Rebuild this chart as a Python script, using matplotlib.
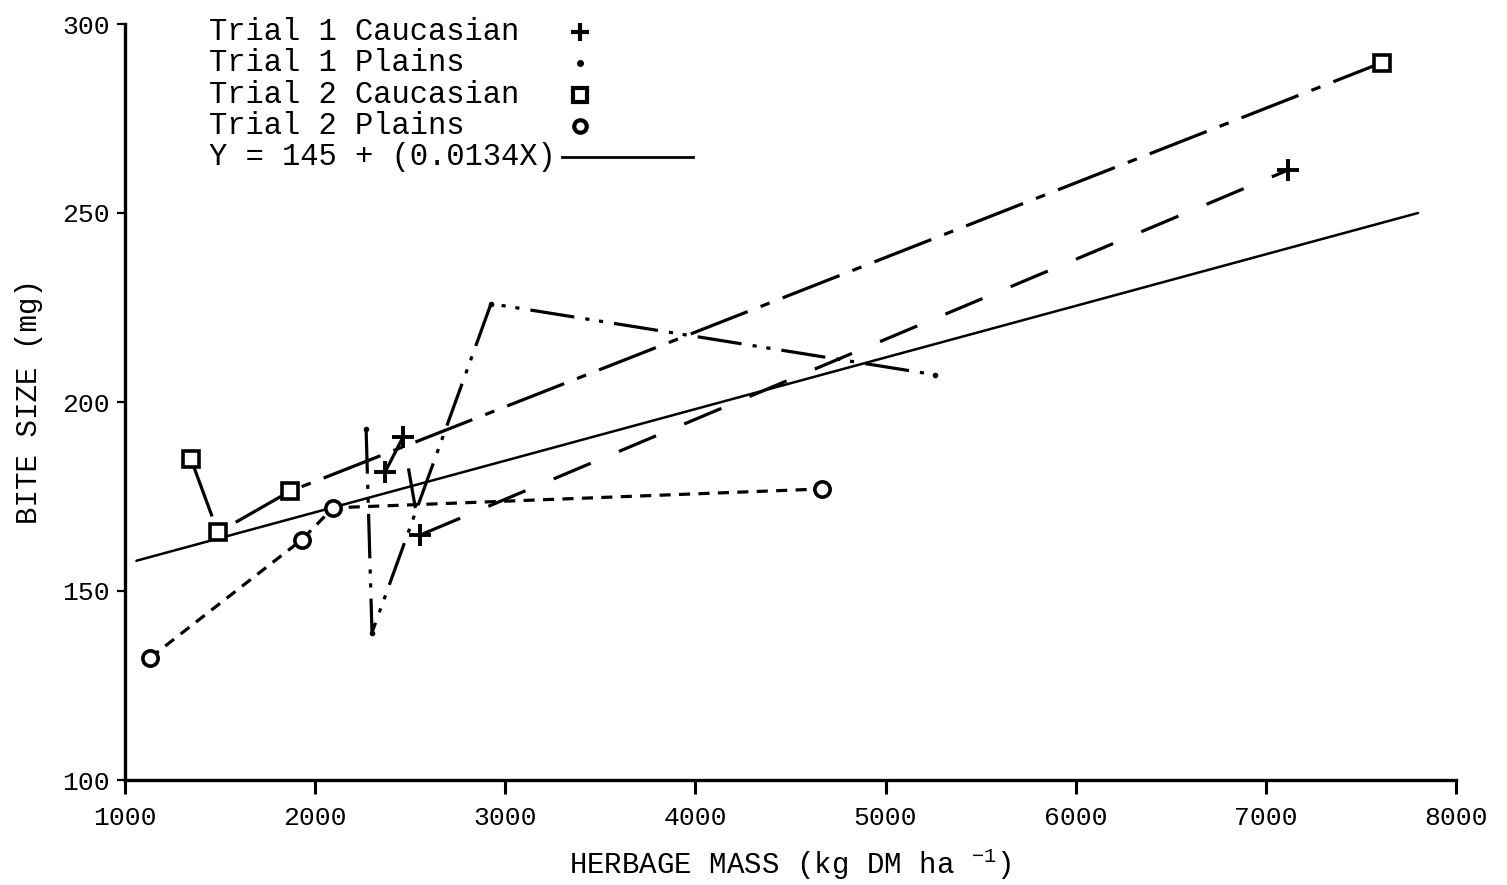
import matplotlib
matplotlib.use('Agg')
import matplotlib.pyplot as plt

plt.rcParams['font.family'] = ['Liberation Mono', 'DejaVu Sans Mono']
plt.rcParams['mathtext.default'] = 'regular'
plt.rcParams['lines.scale_dashes'] = False

# Trial 1 Caucasian (+), dashed
t1c_x = [2368, 2462, 2552, 7118]
t1c_y = [181.5, 190.7, 164.8, 261.4]
# Trial 1 Plains (dot), dash-dot-dot
t1p_x = [2268, 2299, 2925, 5261]
t1p_y = [192.8, 139.0, 226.0, 207.2]
# Trial 2 Caucasian (square), dash-dot
t2c_x = [1347, 1489, 1868, 7612]
t2c_y = [184.9, 165.5, 176.4, 289.8]
# Trial 2 Plains (circle), short dashes
t2p_x = [1131, 1931, 2094, 4667]
t2p_y = [132.3, 163.6, 172.0, 177.0]
# fitted line Y = 145 + 0.0134X, end points
fit_x = [1060, 7800]
fit_y = [158, 250]

legend_labels = ['Trial 1 Caucasian', 'Trial 1 Plains', 'Trial 2 Caucasian',
                 'Trial 2 Plains', 'Y = 145 + (0.0134X)']
x_ticks = [1000, 2000, 3000, 4000, 5000, 6000, 7000, 8000]
y_ticks = [100, 150, 200, 250, 300]

fig = plt.figure(figsize=(15.07, 8.85), dpi=100)
ax = fig.add_axes([125 / 1507, 1 - 780 / 885, 1331 / 1507, 756 / 885])

# data lines
ax.plot(fit_x, fit_y, color='k', lw=1.8, solid_capstyle='round')
ax.plot(t1c_x, t1c_y, color='k', lw=2.3, dashes=(29, 22),
        marker='+', ms=16, mew=2.8, clip_on=False)
ax.plot(t1p_x, t1p_y, color='k', lw=2.3, dashes=(32, 8, 3, 7, 3, 8),
        marker='o', ms=3, clip_on=False)
ax.plot(t2c_x, t2c_y, color='k', lw=2.3, dashes=(44, 10, 7, 10),
        marker='s', ms=11, mfc='white', mew=2.6, clip_on=False)
ax.plot(t2p_x, t2p_y, color='k', lw=2.3, dashes=(8, 6),
        marker='o', ms=11, mfc='white', mew=2.6, clip_on=False)

ax.set_xlim(1000, 8000)
ax.set_ylim(100, 300)
ax.set_xticks(x_ticks)
ax.set_yticks(y_ticks)
for s in ['top', 'right']:
    ax.spines[s].set_visible(False)
for s in ['left', 'bottom']:
    ax.spines[s].set_linewidth(2.4)
ax.tick_params(axis='x', direction='out', length=10, width=2.2, labelsize=19, pad=9)
ax.tick_params(axis='y', direction='out', length=6, width=1.6, labelsize=19, pad=5)

ax.set_xlabel(r'HERBAGE MASS (kg DM ha $^{-1}$)', fontsize=21, labelpad=12)
ax.set_ylabel('BITE SIZE (mg)', fontsize=21, labelpad=14)

# hand made legend, text left and symbol right
leg_y = [0.989, 0.948, 0.906, 0.865, 0.824]
leg_styles = [dict(marker='+', ms=13, mew=3),
              dict(marker='o', ms=4),
              dict(marker='s', ms=10, mfc='white', mew=3),
              dict(marker='o', ms=9, mfc='white', mew=3)]
for i, lab in enumerate(legend_labels):
    ax.text(0.063, leg_y[i], lab, transform=ax.transAxes, fontsize=22,
            ha='left', va='center')
    if i < 4:
        ax.plot([0.342], [leg_y[i]], color='k', transform=ax.transAxes,
                clip_on=False, ls='none', **leg_styles[i])
    else:
        ax.plot([0.328, 0.427], [leg_y[i], leg_y[i]], color='k', lw=2,
                transform=ax.transAxes, clip_on=False)

fig.savefig('out.png', dpi=100, facecolor='white')
